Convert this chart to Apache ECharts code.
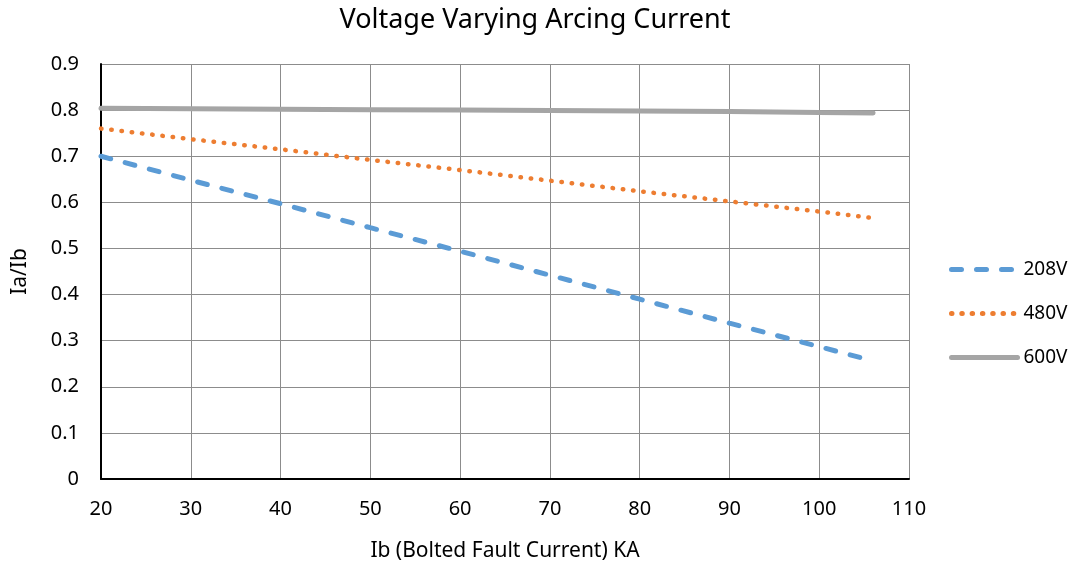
<!DOCTYPE html>
<html><head><meta charset="utf-8">
<script src="https://cdn.jsdelivr.net/npm/echarts@6/dist/echarts.min.js"></script>
<style>html,body{margin:0;padding:0;background:#fff}#c{width:1070px;height:561px}</style>
</head><body><div id="c"></div>
<script>
const xValues = [20, 30, 40, 50, 60, 70, 80, 90, 100, 106];
const v208 = [0.700, 0.648, 0.597, 0.545, 0.494, 0.442, 0.390, 0.338, 0.287, 0.256];
const v480 = [0.760, 0.737, 0.715, 0.692, 0.670, 0.647, 0.624, 0.602, 0.580, 0.566];
const v600 = [0.804, 0.803, 0.802, 0.801, 0.800, 0.799, 0.798, 0.797, 0.795, 0.794];
const seriesNames = ['208V', '480V', '600V'];
const font = 'Noto Sans';
const chart = echarts.init(document.getElementById('c'));
const pairs = arr => xValues.map((x, i) => [x, arr[i]]);
chart.setOption({
  animation: false,
  title: { text: 'Voltage Varying Arcing Current', left: 'center', top: 2,
    textStyle: { fontFamily: font, fontSize: 27, fontWeight: 'normal', color: '#000' } },
  grid: { left: 101, right: 161, top: 64, bottom: 82, outerBoundsMode: 'none', containLabel: false },
  legend: { orient: 'vertical', left: 944, top: 255, itemWidth: 66, itemHeight: 14, itemGap: 25,
    itemStyle: { opacity: 0 },
    lineStyle: { width: 5 },
    textStyle: { fontFamily: font, fontSize: 19, color: '#000', padding: [0,0,0,1] },
    data: seriesNames },
  xAxis: { type: 'value', min: 20, max: 110, interval: 10,
    name: 'Ib (Bolted Fault Current) KA', nameLocation: 'middle', nameGap: 62,
    nameTextStyle: { fontFamily: font, fontSize: 21, color: '#000' },
    axisLine: { show: true, onZero: false, lineStyle: { color: '#000', width: 2 } },
    axisTick: { show: false },
    axisLabel: { fontFamily: font, fontSize: 20, color: '#000', margin: 20 },
    splitLine: { show: true, lineStyle: { color: '#8c8c8c', width: 1 } } },
  yAxis: { type: 'value', min: 0, max: 0.9, interval: 0.1,
    name: 'Ia/Ib', nameLocation: 'middle', nameGap: 70, nameRotate: 90,
    nameTextStyle: { fontFamily: font, fontSize: 21, color: '#000' },
    axisLine: { show: true, lineStyle: { color: '#000', width: 2 } },
    axisTick: { show: false },
    axisLabel: { fontFamily: font, fontSize: 20, color: '#000', margin: 22,
      formatter: v => String(Math.round(v * 10) / 10) },
    splitLine: { show: true, lineStyle: { color: '#8c8c8c', width: 1 } } },
  series: [
    { name: seriesNames[0], type: 'line', data: pairs(v208), symbol: 'none', color: '#5B9BD5',
      lineStyle: { width: 5, type: [10, 15], cap: 'round', color: '#5B9BD5' } },
    { name: seriesNames[1], type: 'line', data: pairs(v480), symbol: 'none', color: '#ED7D31',
      lineStyle: { width: 4.5, type: [0.5, 9.8], cap: 'round', color: '#ED7D31' } },
    { name: seriesNames[2], type: 'line', data: pairs(v600), symbol: 'none', color: '#A5A5A5',
      lineStyle: { width: 5, type: 'solid', cap: 'round', color: '#A5A5A5' } }
  ]
});
</script></body></html>
